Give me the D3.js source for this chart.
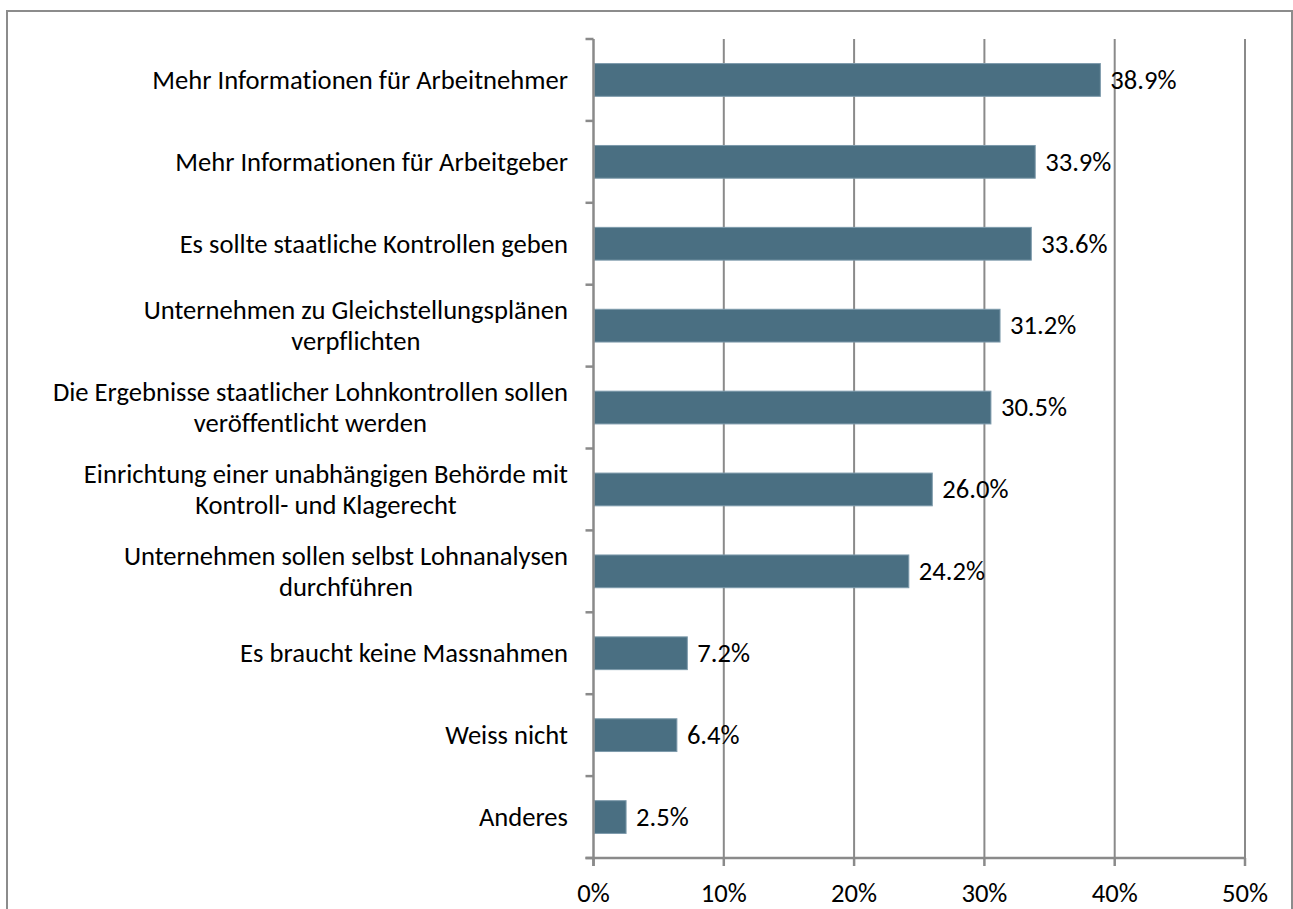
<!DOCTYPE html>
<html>
<head>
<meta charset="utf-8">
<script src="https://cdn.jsdelivr.net/npm/d3@7"></script>
<style>
  body { margin: 0; background: #fff; }
  text { font-family: Carlito, Lato, "Open Sans", sans-serif; fill: #000;
         font-variant-ligatures: none; font-feature-settings: "liga" 0, "clig" 0, "dlig" 0; }
</style>
</head>
<body>
<div id="chart"></div>
<script>
// categories, top to bottom
const categories = [
  "Mehr Informationen für Arbeitnehmer",
  "Mehr Informationen für Arbeitgeber",
  "Es sollte staatliche Kontrollen geben",
  "Unternehmen zu Gleichstellungsplänen\nverpflichten",
  "Die Ergebnisse staatlicher Lohnkontrollen sollen\nveröffentlicht werden",
  "Einrichtung einer unabhängigen Behörde mit\nKontroll- und Klagerecht",
  "Unternehmen sollen selbst Lohnanalysen\ndurchführen",
  "Es braucht keine Massnahmen",
  "Weiss nicht",
  "Anderes"
];
const values = [38.9, 33.9, 33.6, 31.2, 30.5, 26.0, 24.2, 7.2, 6.4, 2.5];
const xTicks = [0, 10, 20, 30, 40, 50];

const width = 1293, height = 909;
const fontSize = 26.6;
const plotTop = 39, plotBottom = 858;

var svg = d3.select("#chart")
    .append("svg")
    .attr("width", width)
    .attr("height", height);

// outer chart frame
svg.append("rect")
    .attr("x", 7)
    .attr("y", 11)
    .attr("width", 1285)
    .attr("height", 920)
    .style("fill", "none")
    .style("stroke", "#8c8c8c")
    .style("stroke-width", 2);

var x = d3.scaleLinear().domain([0, 50]).range([593.5, 1245]);
var y = d3.scaleBand().domain(categories).range([plotTop, plotBottom]).paddingInner(0.6).paddingOuter(0.3);
var yEdge = d3.scaleLinear().domain([0, categories.length]).range([plotTop, plotBottom]);

// gridlines
svg.append("g")
    .selectAll("line")
    .data(xTicks.slice(1))
    .enter().append("line")
    .attr("x1", d => x(d)).attr("x2", d => x(d))
    .attr("y1", plotTop).attr("y2", plotBottom)
    .style("stroke", "#8a8a8a")
    .style("stroke-width", 2);

// bars
svg.append("g")
    .selectAll("rect")
    .data(values)
    .enter().append("rect")
    .attr("x", x(0) + 1)
    .attr("y", (d, i) => y(categories[i]))
    .attr("width", d => x(d) - x(0) - 1)
    .attr("height", y.bandwidth())
    .style("fill", "#4a6f82")
    .style("stroke", "#7d9aab")
    .style("stroke-width", 1);

// y axis line and ticks at band edges
var axis = svg.append("g").style("stroke", "#8a8a8a").style("stroke-width", 2.5);
axis.append("line")
    .attr("x1", x(0)).attr("x2", x(0))
    .attr("y1", plotTop).attr("y2", plotBottom + 8);
axis.selectAll(".ytick")
    .data(d3.range(categories.length + 1))
    .enter().append("line")
    .attr("x1", x(0) - 8).attr("x2", x(0))
    .attr("y1", d => yEdge(d)).attr("y2", d => yEdge(d));

// x axis line and ticks
axis.append("line")
    .attr("x1", x(0) - 8).attr("x2", x(50))
    .attr("y1", plotBottom).attr("y2", plotBottom);
axis.selectAll(".xtick")
    .data(xTicks)
    .enter().append("line")
    .attr("x1", d => x(d)).attr("x2", d => x(d))
    .attr("y1", plotBottom).attr("y2", plotBottom + 8);

// x tick labels
svg.append("g")
    .selectAll("text")
    .data(xTicks)
    .enter().append("text")
    .attr("x", d => x(d))
    .attr("y", 902)
    .attr("text-anchor", "middle")
    .style("font-size", fontSize + "px")
    .text(d => d + "%");

// category labels (multi-line centered block, right edge at 568)
var lineH = 31;
var catLabel = svg.append("g")
    .selectAll("g")
    .data(categories)
    .enter().append("g")
    .attr("transform", d => "translate(0," + (y(d) + y.bandwidth() / 2) + ")");

catLabel.each(function(d) {
  var lines = d.split("\n");
  var g = d3.select(this);
  var texts = lines.map(function(line, i) {
    return g.append("text")
      .attr("y", (i - (lines.length - 1) / 2) * lineH)
      .attr("dy", "0.33em")
      .attr("text-anchor", "middle")
      .style("font-size", fontSize + "px")
      .text(line);
  });
  var maxW = d3.max(texts, t => t.node().getComputedTextLength());
  texts.forEach(t => t.attr("x", 568 - maxW / 2));
});

// value labels
svg.append("g")
    .selectAll("text")
    .data(values)
    .enter().append("text")
    .attr("x", d => x(d) + 10)
    .attr("y", (d, i) => y(categories[i]) + y.bandwidth() / 2)
    .attr("dy", "0.33em")
    .style("font-size", fontSize + "px")
    .text(d => d.toFixed(1) + "%");
</script>
</body>
</html>
